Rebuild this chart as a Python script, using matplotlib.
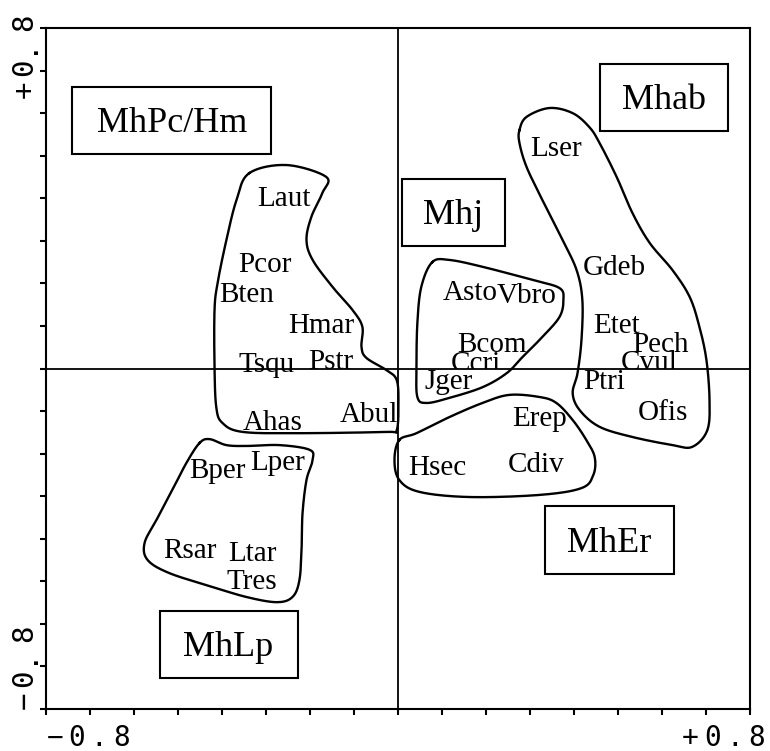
import numpy as np
import matplotlib
matplotlib.use('Agg')
import matplotlib.pyplot as plt
from matplotlib.patches import Rectangle
from matplotlib import transforms

# species scores (label centres)
species = ['Laut', 'Pcor', 'Bten', 'Hmar', 'Tsqu', 'Pstr', 'Abul', 'Ahas',
           'Asto', 'Vbro', 'Bcom', 'Ccri', 'Jger',
           'Erep', 'Hsec', 'Cdiv',
           'Lser', 'Gdeb', 'Etet', 'Pech', 'Cvul', 'Ptri', 'Ofis',
           'Bper', 'Lper', 'Rsar', 'Ltar', 'Tres']
sp_x = [-0.260, -0.303, -0.344, -0.174, -0.299, -0.153, -0.065, -0.285,
        0.163, 0.292, 0.213, 0.176, 0.115,
        0.322, 0.090, 0.315,
        0.358, 0.492, 0.497, 0.597, 0.571, 0.469, 0.601,
        -0.410, -0.274, -0.474, -0.331, -0.333]
sp_y = [0.405, 0.250, 0.180, 0.107, 0.015, 0.022, -0.102, -0.121,
        0.184, 0.177, 0.062, 0.018, -0.025,
        -0.112, -0.227, -0.220,
        0.523, 0.243, 0.107, 0.062, 0.020, -0.025, -0.097,
        -0.234, -0.215, -0.422, -0.429, -0.495]
# these two are cut off below the horizontal axis in the original
clipped = ['Ccri', 'Cvul']

# group envelopes (outline points)
envA_x = [-0.338, -0.253, -0.163, -0.172, -0.197, -0.208, -0.194, -0.149, -0.103, -0.081,
          -0.083, -0.072, -0.026, -0.003, 0.001, -0.003, -0.026, -0.224, -0.353, -0.399,
          -0.413, -0.417, -0.417, -0.410, -0.390, -0.367]
envA_y = [0.459, 0.478, 0.450, 0.412, 0.356, 0.302, 0.255, 0.192, 0.137, 0.098,
          0.051, 0.025, -0.004, -0.027, -0.081, -0.145, -0.149, -0.152, -0.149, -0.128,
          -0.091, 0.004, 0.137, 0.201, 0.302, 0.396]
envB_x = [0.078, 0.117, 0.192, 0.306, 0.367, 0.376, 0.367, 0.328, 0.283, 0.247,
          0.192, 0.117, 0.065, 0.044, 0.042, 0.044, 0.053]
envB_y = [0.250, 0.255, 0.239, 0.208, 0.189, 0.161, 0.121, 0.074, 0.027, -0.011,
          -0.044, -0.069, -0.081, -0.067, 0.004, 0.107, 0.192]
envC_x = [0.003, 0.042, 0.117, 0.192, 0.253, 0.322, 0.360, 0.397, 0.428, 0.447,
          0.444, 0.417, 0.322, 0.163, 0.049, 0.003, -0.008]
envC_y = [-0.168, -0.152, -0.114, -0.081, -0.062, -0.067, -0.081, -0.121, -0.168, -0.208,
          -0.250, -0.281, -0.297, -0.302, -0.290, -0.262, -0.215]
envD_x = [0.276, 0.292, 0.344, 0.397, 0.435, 0.458, 0.497, 0.533, 0.572, 0.624,
          0.663, 0.685, 0.701, 0.708, 0.703, 0.669, 0.624, 0.533, 0.458, 0.413,
          0.397, 0.408, 0.417, 0.419, 0.406, 0.374, 0.328, 0.292, 0.276]
envD_y = [0.560, 0.591, 0.612, 0.600, 0.567, 0.530, 0.450, 0.365, 0.295, 0.231,
          0.168, 0.098, 0.020, -0.074, -0.145, -0.184, -0.180, -0.161, -0.137, -0.098,
          -0.058, -0.011, 0.067, 0.161, 0.231, 0.302, 0.396, 0.474, 0.530]
envE_x = [-0.451, -0.428, -0.390, -0.344, -0.269, -0.201, -0.194, -0.208, -0.217, -0.219,
          -0.224, -0.240, -0.276, -0.344, -0.422, -0.519, -0.569, -0.576, -0.549, -0.513,
          -0.481]
envE_y = [-0.175, -0.166, -0.180, -0.182, -0.180, -0.191, -0.215, -0.262, -0.340, -0.419,
          -0.497, -0.537, -0.549, -0.537, -0.513, -0.481, -0.450, -0.410, -0.356, -0.286,
          -0.222]
envelopes = [(envA_x, envA_y), (envB_x, envB_y), (envC_x, envC_y),
             (envD_x, envD_y), (envE_x, envE_y)]

# group boxes: name, x0, x1, y0, y1
groups = ['MhPc/Hm', 'Mhab', 'Mhj', 'MhEr', 'MhLp']
box_x0 = [-0.740, 0.460, 0.008, 0.333, -0.542]
box_x1 = [-0.288, 0.749, 0.244, 0.628, -0.228]
box_y0 = [0.504, 0.558, 0.288, -0.483, -0.727]
box_y1 = [0.661, 0.715, 0.445, -0.323, -0.570]


def smooth_closed(xs, ys, n=24):
    # closed Catmull-Rom curve through the outline points
    p = np.column_stack([xs, ys])
    m = len(p)
    t = np.linspace(0, 1, n, endpoint=False)[:, None]
    segs = []
    for i in range(m):
        p0, p1, p2, p3 = p[i - 1], p[i], p[(i + 1) % m], p[(i + 2) % m]
        segs.append(0.5 * (2 * p1 + (-p0 + p2) * t
                           + (2 * p0 - 5 * p1 + 4 * p2 - p3) * t ** 2
                           + (-p0 + 3 * p1 - 3 * p2 + p3) * t ** 3))
    segs.append(p[:1])
    out = np.vstack(segs)
    return out[:, 0], out[:, 1]


fig = plt.figure(figsize=(7.7, 7.51), dpi=100)
ax = fig.add_axes([46 / 770, 1 - 709 / 751, 704 / 770, 681 / 751])
ax.set_xlim(-0.8, 0.8)
ax.set_ylim(-0.8, 0.8)

ax.axhline(0, color='black', lw=1.3, zorder=1)
ax.axvline(0, color='black', lw=1.3, zorder=1)

for ex, ey in envelopes:
    cx, cy = smooth_closed(ex, ey)
    ax.plot(cx, cy, color='black', lw=1.7, zorder=2)

serif = 'Liberation Serif'
lab_tr = transforms.offset_copy(ax.transData, fig=fig, y=-7.2, units='points')
upper = transforms.TransformedBbox(transforms.Bbox([[-0.8, 0], [0.8, 0.8]]), ax.transData)
for name, x, y in zip(species, sp_x, sp_y):
    t = ax.text(x, y, name, transform=lab_tr, ha='center', va='baseline',
                family=serif, fontsize=21, zorder=3)
    if name in clipped:
        t.set_clip_box(upper)
        t.set_clip_on(True)

for name, x0, x1, y0, y1 in zip(groups, box_x0, box_x1, box_y0, box_y1):
    ax.add_patch(Rectangle((x0, y0), x1 - x0, y1 - y0, fill=False,
                           edgecolor='black', lw=1.5, zorder=2))
    ax.text((x0 + x1) / 2, (y0 + y1) / 2, name, transform=transforms.offset_copy(
        ax.transData, fig=fig, y=-8.5, units='points'),
        ha='center', va='baseline', family=serif, fontsize=26, zorder=3)

# frame and ticks
ax.set_xticks(np.arange(-8, 9) / 10)
ax.set_yticks(np.arange(-8, 9) / 10)
ax.tick_params(direction='out', length=4, width=1.5, labelbottom=False, labelleft=False)
for s in ax.spines.values():
    s.set_linewidth(1.5)

# axis end labels, spaced out like the original
mono = 'DejaVu Sans Mono'
step = 16.0  # points between characters


def spaced(s, x, y, vertical=False):
    for i, ch in enumerate(s):
        if vertical:
            ax.annotate(ch, (x, y), xytext=(0, i * step), textcoords='offset points',
                        rotation=90, rotation_mode='anchor', ha='center', va='baseline',
                        family=mono, fontsize=21, annotation_clip=False)
        else:
            ax.annotate(ch, (x, y), xytext=(i * step, 0), textcoords='offset points',
                        ha='center', va='baseline', family=mono, fontsize=20,
                        annotation_clip=False)


spaced('\u22120.8', -0.780, -0.886)
spaced('+0.8', 0.664, -0.886)
spaced('+0.8', -0.831, 0.656, vertical=True)
spaced('\u22120.8', -0.831, -0.779, vertical=True)

plt.savefig('out.png', dpi=100)
